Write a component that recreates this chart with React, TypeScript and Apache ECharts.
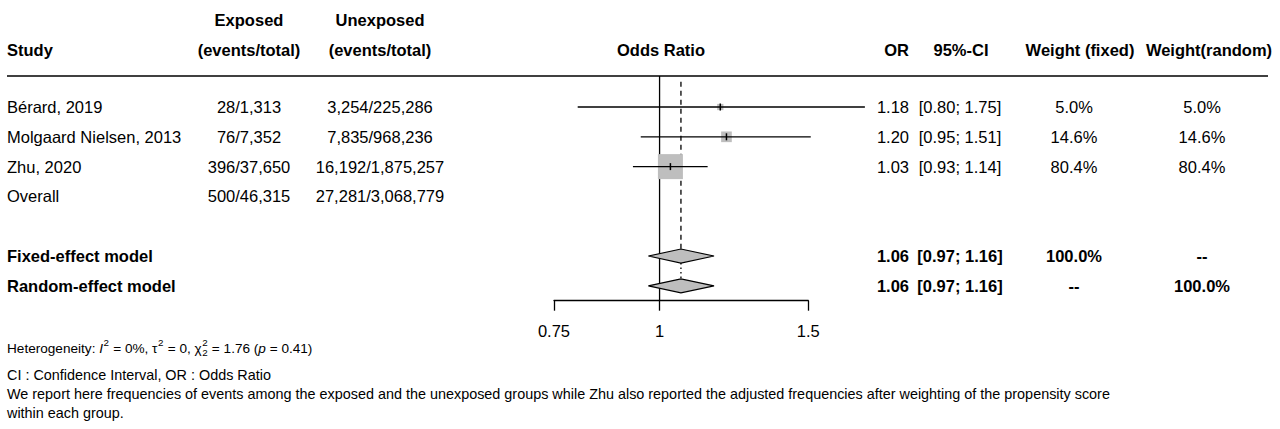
import React, { useEffect, useRef } from "react";
import * as echarts from "echarts";

// ---------- data ----------
const studies = ["Bérard, 2019", "Molgaard Nielsen, 2013", "Zhu, 2020"];
const exposedCounts = ["28/1,313", "76/7,352", "396/37,650"];
const unexposedCounts = ["3,254/225,286", "7,835/968,236", "16,192/1,875,257"];
const orEst = [1.18, 1.2, 1.03];
const ciLow = [0.8, 0.95, 0.93];
const ciHigh = [1.75, 1.51, 1.14];
const weightFixed = [5.0, 14.6, 80.4];
const weightRandom = [5.0, 14.6, 80.4];

const overallLabel = "Overall";
const overallExposed = "500/46,315";
const overallUnexposed = "27,281/3,068,779";

const modelNames = ["Fixed-effect model", "Random-effect model"];
const modelEst = [1.06, 1.06];
const modelLow = [0.97, 0.97];
const modelHigh = [1.16, 1.16];
const modelWeightFixed = ["100.0%", "--"];
const modelWeightRandom = ["--", "100.0%"];

const axisTicks = [0.75, 1, 1.5];

const hetI2 = "0%";
const hetTau2 = "0";
const hetDf = "2";
const hetQ = "1.76";
const hetP = "0.41";

const note1 = "CI : Confidence Interval, OR : Odds Ratio";
const note2 =
  "We report here frequencies of events among the exposed and the unexposed groups while Zhu also reported the adjusted frequencies after weighting of the propensity score";
const note3 = "within each group.";

// ---------- layout ----------
const FONT = "'Liberation Sans', Arial, Helvetica, sans-serif";
const FS = 16.5;
const NOTE_FS = 14.4;
const HET_FS = 13.6;
const BOX_SCALE = 2.79;
const GRAY = "#bebebe";

const ROW_H1 = -2.92;
const ROW_H2 = -1.91;
const ROW_LINE = -1.04;
const studyRows = [0, 1, 2];
const overallRow = 3;
const modelRows = [5, 6];
const axisRow = 6.5;

type TItem = { x: number; row: number; t: string; a: "left" | "center" | "right"; b?: boolean };

function buildTextItems(): TItem[] {
  const items: TItem[] = [
    { x: 7, row: ROW_H2, t: "Study", a: "left", b: true },
    { x: 249, row: ROW_H1, t: "Exposed", a: "center", b: true },
    { x: 249, row: ROW_H2, t: "(events/total)", a: "center", b: true },
    { x: 380, row: ROW_H1, t: "Unexposed", a: "center", b: true },
    { x: 380, row: ROW_H2, t: "(events/total)", a: "center", b: true },
    { x: 661, row: ROW_H2, t: "Odds Ratio", a: "center", b: true },
    { x: 909, row: ROW_H2, t: "OR", a: "right", b: true },
    { x: 961, row: ROW_H2, t: "95%-CI", a: "center", b: true },
    { x: 1080, row: ROW_H2, t: "Weight (fixed)", a: "center", b: true },
    { x: 1209, row: ROW_H2, t: "Weight(random)", a: "center", b: true },
  ];
  studies.forEach((s, i) => {
    const r = studyRows[i];
    items.push({ x: 7, row: r, t: s, a: "left" });
    items.push({ x: 249, row: r, t: exposedCounts[i], a: "center" });
    items.push({ x: 380, row: r, t: unexposedCounts[i], a: "center" });
    items.push({ x: 909, row: r, t: orEst[i].toFixed(2), a: "right" });
    items.push({ x: 960, row: r, t: `[${ciLow[i].toFixed(2)}; ${ciHigh[i].toFixed(2)}]`, a: "center" });
    items.push({ x: 1074, row: r, t: `${weightFixed[i].toFixed(1)}%`, a: "center" });
    items.push({ x: 1202, row: r, t: `${weightRandom[i].toFixed(1)}%`, a: "center" });
  });
  items.push({ x: 7, row: overallRow, t: overallLabel, a: "left" });
  items.push({ x: 249, row: overallRow, t: overallExposed, a: "center" });
  items.push({ x: 380, row: overallRow, t: overallUnexposed, a: "center" });
  modelNames.forEach((m, i) => {
    const r = modelRows[i];
    items.push({ x: 7, row: r, t: m, a: "left", b: true });
    items.push({ x: 909, row: r, t: modelEst[i].toFixed(2), a: "right", b: true });
    items.push({ x: 960, row: r, t: `[${modelLow[i].toFixed(2)}; ${modelHigh[i].toFixed(2)}]`, a: "center", b: true });
    items.push({ x: 1074, row: r, t: modelWeightFixed[i], a: "center", b: true });
    items.push({ x: 1202, row: r, t: modelWeightRandom[i], a: "center", b: true });
  });
  return items;
}

function buildHet(x0: number, y: number, fs: number) {
  const ctx = document.createElement("canvas").getContext("2d")!;
  const small = fs * 0.72;
  const segs: { t: string; k: "n" | "i" | "sup" | "supsub" }[] = [
    { t: "Heterogeneity: ", k: "n" },
    { t: "I", k: "i" },
    { t: "2", k: "sup" },
    { t: ` = ${hetI2}, `, k: "n" },
    { t: "τ", k: "n" },
    { t: "2", k: "sup" },
    { t: ` = ${hetTau2}, `, k: "n" },
    { t: "χ", k: "n" },
    { t: "2", k: "supsub" },
    { t: ` = ${hetQ} (`, k: "n" },
    { t: "p", k: "i" },
    { t: ` = ${hetP})`, k: "n" },
  ];
  const out: any[] = [];
  let x = x0;
  for (const s of segs) {
    if (s.k === "n" || s.k === "i") {
      ctx.font = `${s.k === "i" ? "italic " : ""}${fs}px ${FONT}`;
      out.push({
        type: "text",
        x,
        y,
        style: { text: s.t, fontSize: fs, fontStyle: s.k === "i" ? "italic" : "normal", fontFamily: FONT, fill: "#000", verticalAlign: "middle", align: "left" },
      });
      x += ctx.measureText(s.t).width;
    } else {
      ctx.font = `${small}px ${FONT}`;
      out.push({
        type: "text",
        x: x + 0.5,
        y: y - fs * 0.38,
        style: { text: s.t, fontSize: small, fontFamily: FONT, fill: "#000", verticalAlign: "middle", align: "left" },
      });
      if (s.k === "supsub") {
        out.push({
          type: "text",
          x: x + 0.5,
          y: y + fs * 0.33,
          style: { text: hetDf, fontSize: small, fontFamily: FONT, fill: "#000", verticalAlign: "middle", align: "left" },
        });
      }
      x += ctx.measureText(s.t).width + 1;
    }
  }
  return out;
}

export default function App() {
  const ref = useRef<HTMLDivElement>(null);
  useEffect(() => {
    if (!ref.current) return;
    const chart = echarts.init(ref.current, undefined, { renderer: "svg" });
    const textItems = buildTextItems();
    const ln = Math.log;
    const yAx = { type: "value", min: -3.5, max: 10.7, inverse: true, show: false };

    const option: any = {
      animation: false,
      backgroundColor: "#fff",
      grid: [
        { left: 0, right: 0, top: 2.7, height: 423.2 },
        { left: 549.5, width: 330.2, top: 2.7, height: 423.2 },
        { left: 554, width: 254.3, top: 290, height: 10.7 },
      ],
      xAxis: [
        { gridIndex: 0, type: "value", min: 0, max: 1280, show: false },
        { gridIndex: 1, type: "value", min: -0.3, max: 0.6, show: false },
        {
          gridIndex: 2,
          type: "value",
          min: ln(axisTicks[0]),
          max: ln(axisTicks[axisTicks.length - 1]),
          axisLine: { show: true, onZero: false, lineStyle: { color: "#000", width: 1.3 } },
          axisTick: { show: true, customValues: axisTicks.map((v) => ln(v)), length: 10, lineStyle: { color: "#000", width: 1.3 } },
          axisLabel: {
            show: true,
            customValues: axisTicks.map((v) => ln(v)),
            formatter: (v: number) => String(Number(Math.exp(v).toFixed(2))),
            margin: 22,
            fontSize: FS,
            fontFamily: FONT,
            color: "#000",
          },
          splitLine: { show: false },
        },
      ],
      yAxis: [
        { gridIndex: 0, ...yAx },
        { gridIndex: 1, ...yAx },
        { gridIndex: 2, type: "value", show: false },
      ],
      series: [
        {
          type: "custom",
          xAxisIndex: 0,
          yAxisIndex: 0,
          data: textItems.map((t) => [t.x, t.row]),
          renderItem: (params: any, api: any) => {
            const it = textItems[params.dataIndex];
            const p = api.coord([api.value(0), api.value(1)]);
            return {
              type: "text",
              x: p[0],
              y: p[1],
              style: {
                text: it.t,
                fontSize: FS,
                fontWeight: it.b ? "bold" : "normal",
                fontFamily: FONT,
                fill: "#000",
                align: it.a,
                verticalAlign: "middle",
              },
            };
          },
        },
        {
          type: "custom",
          xAxisIndex: 1,
          yAxisIndex: 1,
          data: [
            [ln(1), ROW_LINE, axisRow, 0, 0, 0],
            [ln(modelEst[0]), -0.85, modelRows[0], 0, -7, 1],
            [ln(modelEst[1]), modelRows[0], modelRows[1], 7, -7, 2],
          ],
          renderItem: (params: any, api: any) => {
            const a = api.coord([api.value(0), api.value(1)]);
            const b = api.coord([api.value(0), api.value(2)]);
            const kind = api.value(5);
            return {
              type: "line",
              shape: { x1: a[0], y1: a[1] + api.value(3), x2: b[0], y2: b[1] + api.value(4) },
              style: {
                stroke: "#000",
                lineWidth: 1.3,
                lineDash: kind === 1 ? [5, 4] : kind === 2 ? [1.5, 3] : null,
              },
            };
          },
        },
        {
          type: "custom",
          xAxisIndex: 1,
          yAxisIndex: 1,
          data: studies.map((_, i) => [ln(ciLow[i]), ln(ciHigh[i]), studyRows[i], ln(orEst[i]), weightFixed[i]]),
          renderItem: (params: any, api: any) => {
            const lo = api.coord([api.value(0), api.value(2)]);
            const hi = api.coord([api.value(1), api.value(2)]);
            const est = api.coord([api.value(3), api.value(2)]);
            const size = BOX_SCALE * Math.sqrt(api.value(4));
            return {
              type: "group",
              children: [
                { type: "rect", shape: { x: est[0] - size / 2, y: est[1] - size / 2, width: size, height: size }, style: { fill: GRAY } },
                { type: "line", shape: { x1: lo[0], y1: lo[1], x2: hi[0], y2: hi[1] }, style: { stroke: "#000", lineWidth: 1.3 } },
                { type: "line", shape: { x1: est[0], y1: est[1] - 3.5, x2: est[0], y2: est[1] + 3.5 }, style: { stroke: "#000", lineWidth: 1.5 } },
              ],
            };
          },
        },
        {
          type: "custom",
          xAxisIndex: 1,
          yAxisIndex: 1,
          data: modelNames.map((_, i) => [ln(modelLow[i]), ln(modelHigh[i]), modelRows[i], ln(modelEst[i])]),
          renderItem: (params: any, api: any) => {
            const lo = api.coord([api.value(0), api.value(2)]);
            const hi = api.coord([api.value(1), api.value(2)]);
            const est = api.coord([api.value(3), api.value(2)]);
            const h = 7;
            return {
              type: "polygon",
              shape: { points: [[lo[0], lo[1]], [est[0], est[1] - h], [hi[0], hi[1]], [est[0], est[1] + h]] },
              style: { fill: GRAY, stroke: "#000", lineWidth: 1.2 },
            };
          },
        },
      ],
      graphic: [
        { type: "line", shape: { x1: 7, y1: 76, x2: 1268, y2: 76 }, style: { stroke: "#000", lineWidth: 1.5 } },
        ...buildHet(7, 348, HET_FS),
        { type: "text", x: 7, y: 375, style: { text: note1, fontSize: NOTE_FS, fontFamily: FONT, fill: "#000", verticalAlign: "middle" } },
        { type: "text", x: 7, y: 394, style: { text: note2, fontSize: NOTE_FS, fontFamily: FONT, fill: "#000", verticalAlign: "middle" } },
        { type: "text", x: 7, y: 413, style: { text: note3, fontSize: NOTE_FS, fontFamily: FONT, fill: "#000", verticalAlign: "middle" } },
      ],
    };
    chart.setOption(option);
    return () => chart.dispose();
  }, []);
  return <div ref={ref} style={{ position: "absolute", left: 0, top: 0, width: 1280, height: 429 }} />;
}
